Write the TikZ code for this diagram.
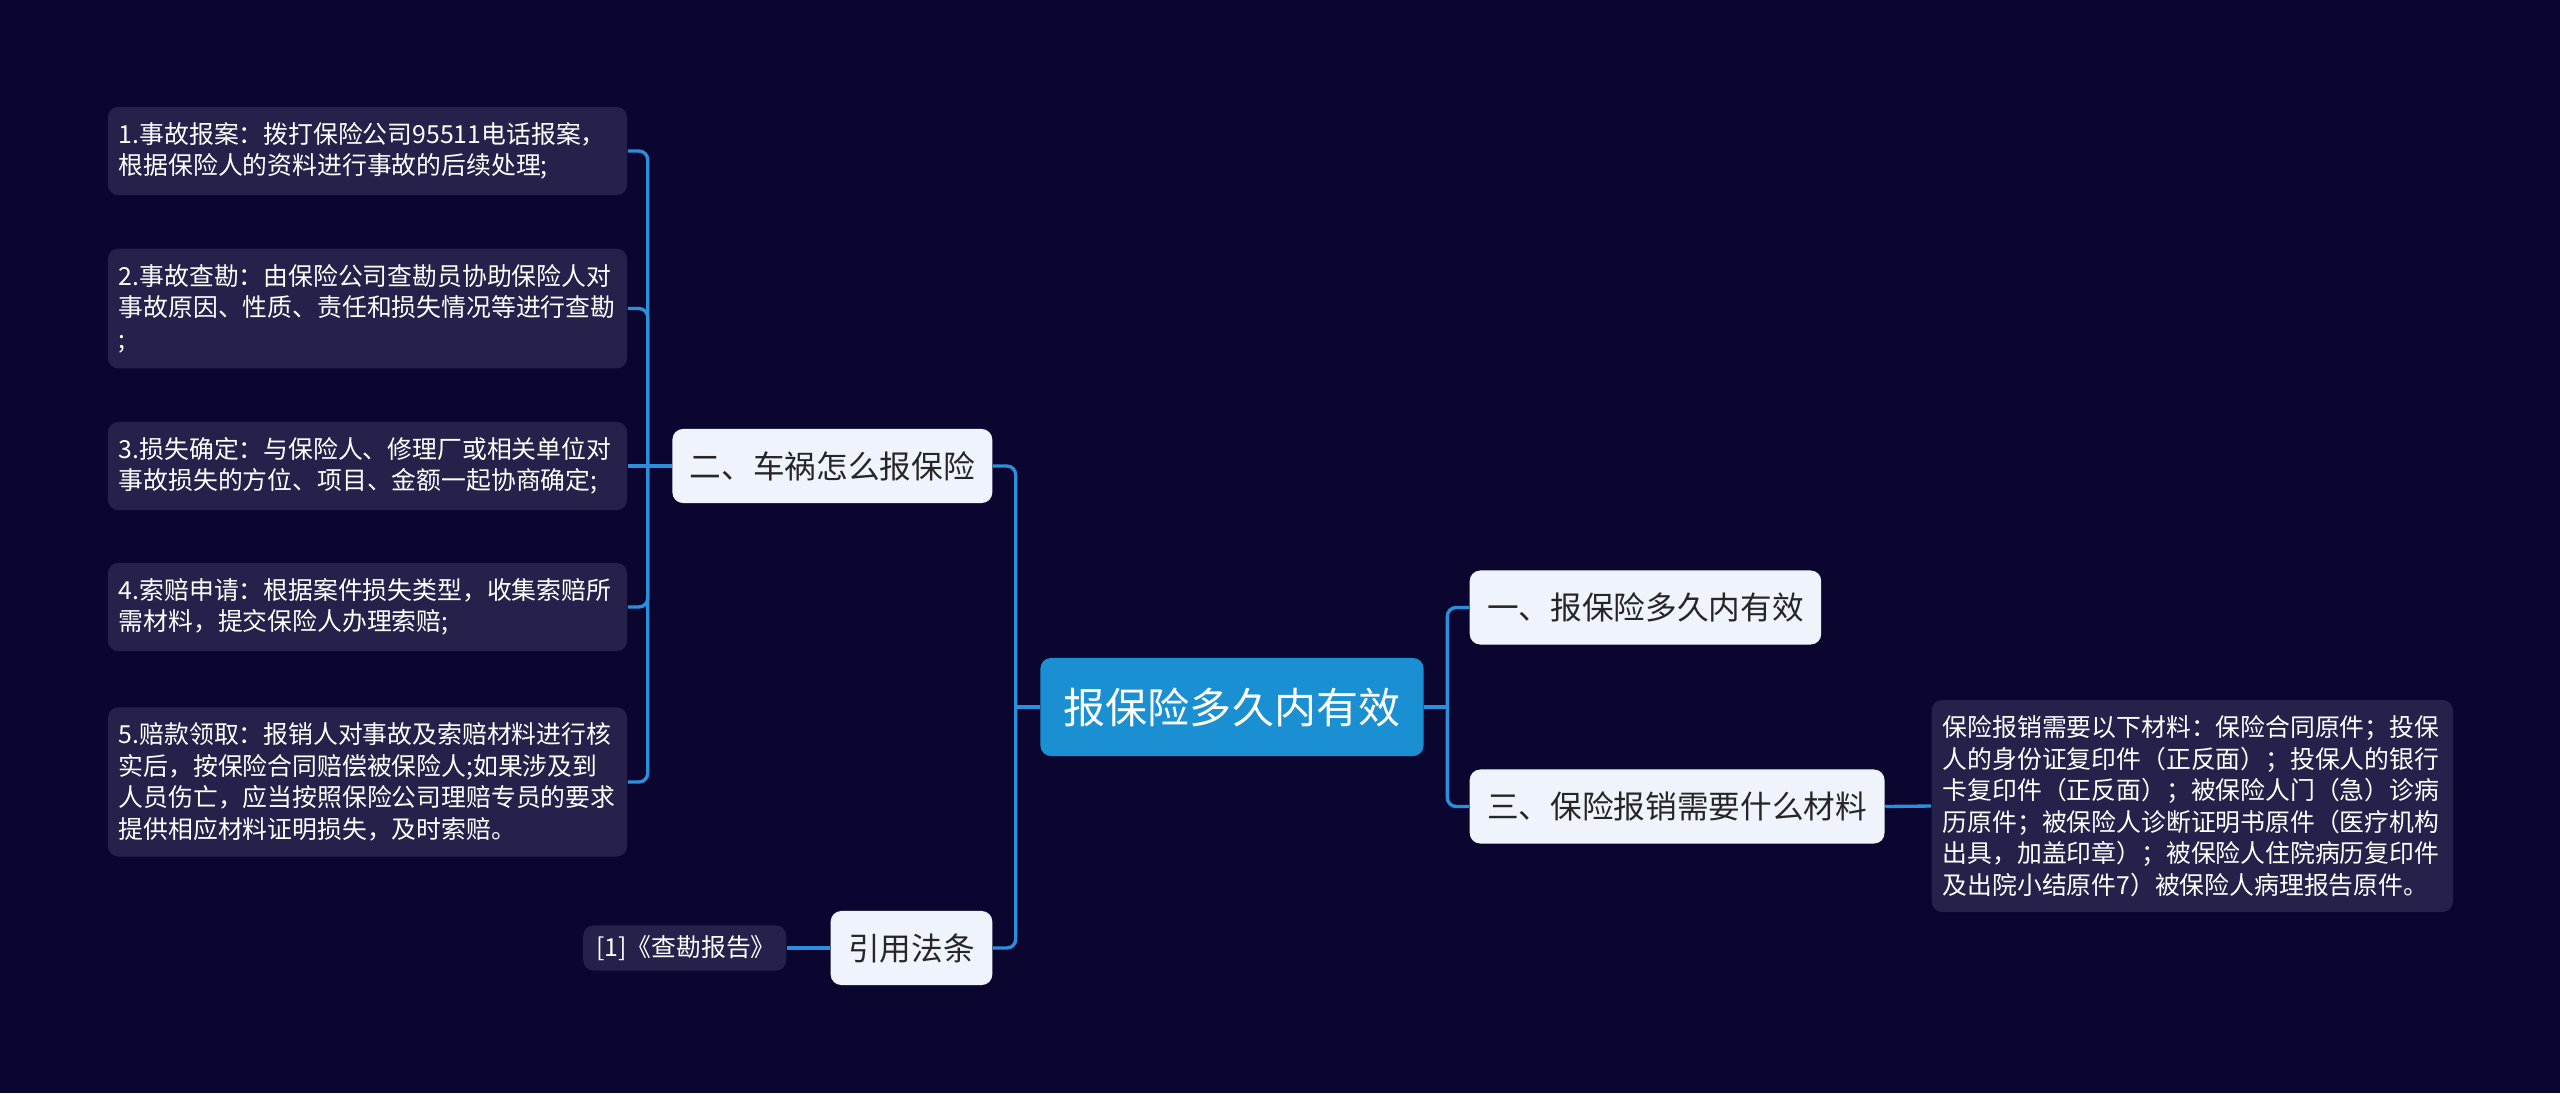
\documentclass[tikz,border=0pt]{standalone}
\usepackage{fontspec}
\setmainfont{Noto Sans CJK SC}
\usepackage{tikz}
\definecolor{bgnavy}{HTML}{0B0630}
\definecolor{leaffill}{HTML}{25214A}
\definecolor{subfill}{HTML}{EEF3FC}
\definecolor{topicfill}{HTML}{1A90D2}
\definecolor{linkblue}{HTML}{2B8FDB}
\tikzset{
  topic/.style={fill=topicfill, rounded corners=3pt, text=white, inner xsep=0.235cm,
    minimum height=0.98cm, font=\fontsize{11.95pt}{14pt}\selectfont},
  subtopic/.style={fill=subfill, rounded corners=3pt, text=black!85, inner xsep=0.175cm,
    minimum height=0.74cm, font=\fontsize{9pt}{11pt}\selectfont},
  leaf/.style={fill=leaffill, rounded corners=3pt, text=white, inner xsep=0.11cm,
    inner ysep=0.155cm, text width=4.97cm, align=left,
    font=\fontsize{7.06pt}{8.96pt}\selectfont},
  link/.style={draw=linkblue, line width=0.95pt, rounded corners=2.5pt},
}
\begin{document}
\begin{tikzpicture}[x=0.01cm,y=-0.01cm]
  \useasboundingbox[fill=bgnavy] (0,0) rectangle (2560,1093);
  % centre
  \node[topic] (topic) at (1232,707) {报保险多久内有效};
  % left side
  \node[subtopic, anchor=east] (b2) at (993,466) {二、车祸怎么报保险};
  \node[subtopic, anchor=east] (law) at (993,948) {引用法条};
  \node[leaf, text width=1.77cm, inner xsep=0.13cm, inner ysep=0.1cm, anchor=east] (cite) at (787,948) {[1]《查勘报告》};
  \node[leaf] (l1) at (367.5,151) {1.事故报案：拨打保险公司95511电话报案，\\根据保险人的资料进行事故的后续处理;};
  \node[leaf] (l2) at (367.5,308.5) {2.事故查勘：由保险公司查勘员协助保险人对\\事故原因、性质、责任和损失情况等进行查勘\\;};
  \node[leaf] (l3) at (367.5,466) {3.损失确定：与保险人、修理厂或相关单位对\\事故损失的方位、项目、金额一起协商确定;};
  \node[leaf] (l4) at (367.5,607) {4.索赔申请：根据案件损失类型，收集索赔所\\需材料，提交保险人办理索赔;};
  \node[leaf] (l5) at (367.5,782) {5.赔款领取：报销人对事故及索赔材料进行核\\实后，按保险合同赔偿被保险人;如果涉及到\\人员伤亡，应当按照保险公司理赔专员的要求\\提供相应材料证明损失，及时索赔。};
  % right side
  \node[subtopic, anchor=west] (b1) at (1469,607.5) {一、报保险多久内有效};
  \node[subtopic, anchor=west] (b3) at (1469,806.5) {三、保险报销需要什么材料};
  \node[leaf, text width=4.99cm, anchor=west] (r1) at (1931,806) {保险报销需要以下材料：保险合同原件；投保\\人的身份证复印件（正反面）；投保人的银行\\卡复印件（正反面）；被保险人门（急）诊病\\历原件；被保险人诊断证明书原件（医疗机构\\出具，加盖印章）；被保险人住院病历复印件\\及出院小结原件7）被保险人病理报告原件。};

  \coordinate (lj) at ([xshift=-0.24cm]topic.west);
  \coordinate (rj) at ([xshift=0.23cm]topic.east);
  \coordinate (bj) at ([xshift=-0.24cm]b2.west);
  \draw[link] (topic.west) -- (lj);
  \draw[link] (lj) |- (b2.east);
  \draw[link] (lj) |- (law.east);
  \draw[link] (topic.east) -- (rj);
  \draw[link] (rj) |- (b1.west);
  \draw[link] (rj) |- (b3.west);
  \draw[link] (b3.east) -- (r1.west);
  \draw[link] (law.west) -- (cite.east);
  \draw[link] (b2.west) -- (bj);
  \foreach \i in {1,2,4,5} \draw[link] (bj) |- (l\i.east);
  \draw[link] (bj) -- (l3.east);
\end{tikzpicture}
\end{document}
